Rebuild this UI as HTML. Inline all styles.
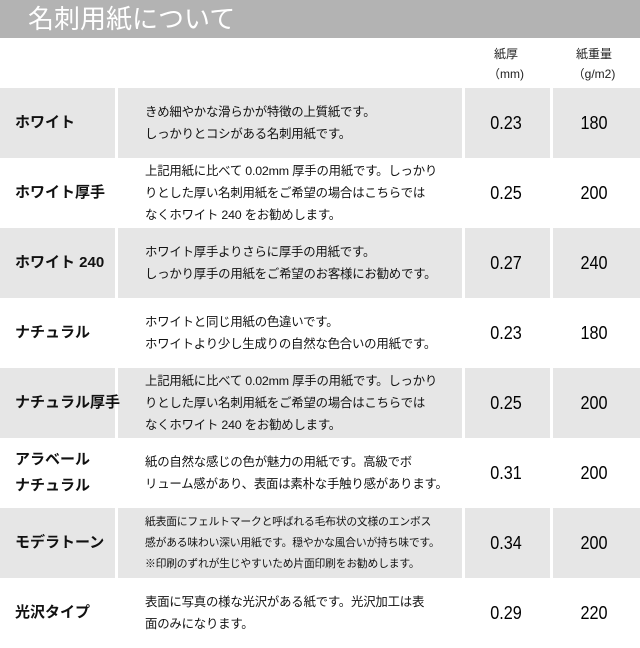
<!DOCTYPE html>
<html><head><meta charset="utf-8"><style>
body{margin:0;width:640px;height:640px;overflow:hidden;background:#fff;font-family:"Liberation Sans","Noto Sans CJK JP",sans-serif;color:#111}
.hd{position:absolute;left:0;top:0;width:640px;height:38px;background:#b3b3b3;color:#fff;font-size:26px;line-height:38px;padding-left:28px;box-sizing:border-box}
.ch{position:absolute;font-size:12px;text-align:center;line-height:20px;color:#222}
.row{position:absolute;left:0;width:640px;height:70px}
.g{background:#e6e6e6}
.g .d{position:absolute;top:0;height:70px;width:3px;background:#fff}
.nm{position:absolute;left:15px;top:0;height:70px;display:flex;align-items:center;font-weight:bold;font-size:15px;line-height:26px;white-space:nowrap}
.ds{position:absolute;left:145px;top:0;height:70px;display:flex;align-items:center;font-size:12.4px;line-height:22px;white-space:nowrap;letter-spacing:-0.2px}
.sm{font-size:10.8px;line-height:21px}
.n{position:absolute;top:0;height:70px;line-height:70px;font-size:18px;text-align:center;width:80px;transform:scaleX(0.9);font-weight:500;color:#000}
.t{left:466px}.w{left:554px}
</style></head><body>
<div class="hd">名刺用紙について</div>
<div class="ch" style="left:466px;top:44px;width:80px">紙厚<br>（mm)</div>
<div class="ch" style="left:554px;top:44px;width:80px">紙重量<br>（g/m2)</div>

<div class="row g" style="top:88px"><div class="d" style="left:115px"></div><div class="d" style="left:462px"></div><div class="d" style="left:550px"></div>
<div class="nm">ホワイト</div><div class="ds"><div>きめ細やかな滑らかが特徴の上質紙です。<br>しっかりとコシがある名刺用紙です。</div></div><div class="n t">0.23</div><div class="n w">180</div></div>

<div class="row" style="top:158px"><div class="nm">ホワイト厚手</div><div class="ds"><div>上記用紙に比べて 0.02mm 厚手の用紙です。しっかり<br>りとした厚い名刺用紙をご希望の場合はこちらでは<br>なくホワイト 240 をお勧めします。</div></div><div class="n t">0.25</div><div class="n w">200</div></div>

<div class="row g" style="top:228px"><div class="d" style="left:115px"></div><div class="d" style="left:462px"></div><div class="d" style="left:550px"></div>
<div class="nm">ホワイト 240</div><div class="ds"><div>ホワイト厚手よりさらに厚手の用紙です。<br>しっかり厚手の用紙をご希望のお客様にお勧めです。</div></div><div class="n t">0.27</div><div class="n w">240</div></div>

<div class="row" style="top:298px"><div class="nm">ナチュラル</div><div class="ds"><div>ホワイトと同じ用紙の色違いです。<br>ホワイトより少し生成りの自然な色合いの用紙です。</div></div><div class="n t">0.23</div><div class="n w">180</div></div>

<div class="row g" style="top:368px"><div class="d" style="left:115px"></div><div class="d" style="left:462px"></div><div class="d" style="left:550px"></div>
<div class="nm">ナチュラル厚手</div><div class="ds"><div>上記用紙に比べて 0.02mm 厚手の用紙です。しっかり<br>りとした厚い名刺用紙をご希望の場合はこちらでは<br>なくホワイト 240 をお勧めします。</div></div><div class="n t">0.25</div><div class="n w">200</div></div>

<div class="row" style="top:438px"><div class="nm">アラベール<br>ナチュラル</div><div class="ds"><div>紙の自然な感じの色が魅力の用紙です。高級でボ<br>リューム感があり、表面は素朴な手触り感があります。</div></div><div class="n t">0.31</div><div class="n w">200</div></div>

<div class="row g" style="top:508px"><div class="d" style="left:115px"></div><div class="d" style="left:462px"></div><div class="d" style="left:550px"></div>
<div class="nm">モデラトーン</div><div class="ds sm"><div>紙表面にフェルトマークと呼ばれる毛布状の文様のエンボス<br>感がある味わい深い用紙です。穏やかな風合いが持ち味です。<br>※印刷のずれが生じやすいため片面印刷をお勧めします。</div></div><div class="n t">0.34</div><div class="n w">200</div></div>

<div class="row" style="top:578px"><div class="nm">光沢タイプ</div><div class="ds"><div>表面に写真の様な光沢がある紙です。光沢加工は表<br>面のみになります。</div></div><div class="n t">0.29</div><div class="n w">220</div></div>
</body></html>
